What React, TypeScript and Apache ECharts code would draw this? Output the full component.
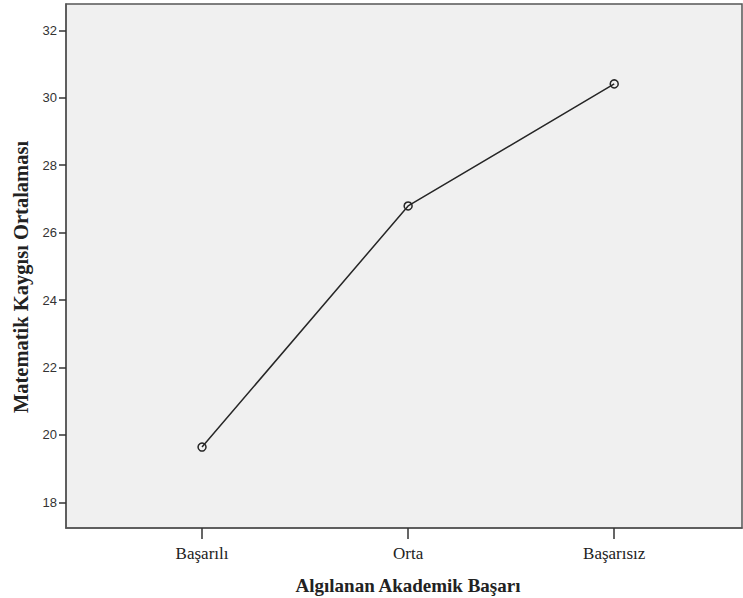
import React, { useEffect, useRef } from "react";
import * as echarts from "echarts";

const categories = ["Başarılı", "Orta", "Başarısız"];
const means = [19.64, 26.79, 30.41];
const yTicks = [18, 20, 22, 24, 26, 28, 30, 32];
const xTitle = "Algılanan Akademik Başarı";
const yTitle = "Matematik Kaygısı Ortalaması";

export default function App() {
  const ref = useRef<HTMLDivElement>(null);
  useEffect(() => {
    if (!ref.current) return;
    const chart = echarts.init(ref.current, undefined, { renderer: "svg" });
    const xIdx = categories.map((_, i) => i);
    chart.setOption({
      animation: false,
      backgroundColor: "#ffffff",
      grid: {
        left: 66,
        top: 4,
        right: 1,
        bottom: 70,
        show: true,
        backgroundColor: "#f0f0f0",
        borderColor: "#555555",
        borderWidth: 1.5,
      },
      graphic: [
        {
          type: "text",
          x: 408,
          y: 585,
          style: {
            text: xTitle,
            fontFamily: "Liberation Serif",
            fontWeight: "bold",
            fontSize: 19,
            fill: "#222222",
            align: "center",
            verticalAlign: "middle",
          },
        },
        {
          type: "text",
          x: 21,
          y: 277,
          rotation: Math.PI / 2,
          style: {
            text: yTitle,
            fontFamily: "Liberation Serif",
            fontWeight: "bold",
            fontSize: 20.5,
            fill: "#222222",
            align: "center",
            verticalAlign: "middle",
          },
        },
      ],
      xAxis: {
        type: "value",
        min: -0.66,
        max: 2.62,
        axisLine: { show: true, onZero: false, lineStyle: { color: "#555555", width: 1.5 } },
        axisTick: { show: true, length: 11, customValues: xIdx, lineStyle: { color: "#333333", width: 1.5 } },
        axisLabel: {
          customValues: xIdx,
          margin: 17,
          color: "#222222",
          fontFamily: "Liberation Serif",
          fontSize: 17,
          formatter: (v: number) => categories[Math.round(v)] ?? "",
        },
        splitLine: { show: false },
      },
      yAxis: {
        type: "value",
        min: 17.24,
        max: 32.78,
        axisLine: { show: true, onZero: false, lineStyle: { color: "#555555", width: 1.5 } },
        axisTick: { show: true, length: 7, customValues: yTicks, lineStyle: { color: "#333333", width: 1.5 } },
        axisLabel: {
          customValues: yTicks,
          margin: 9,
          color: "#333333",
          fontFamily: "Liberation Sans",
          fontSize: 13,
        },
        splitLine: { show: false },
      },
      series: [
        {
          type: "line",
          data: means.map((m, i) => [i, m]),
          lineStyle: { color: "#262626", width: 1.5 },
          symbol: "circle",
          symbolSize: 8,
          itemStyle: { color: "rgba(0,0,0,0)", borderColor: "#262626", borderWidth: 1.5 },
        },
      ],
    });
    return () => chart.dispose();
  }, []);
  return <div ref={ref} style={{ position: "fixed", left: 0, top: 0, width: 743, height: 598 }} />;
}
